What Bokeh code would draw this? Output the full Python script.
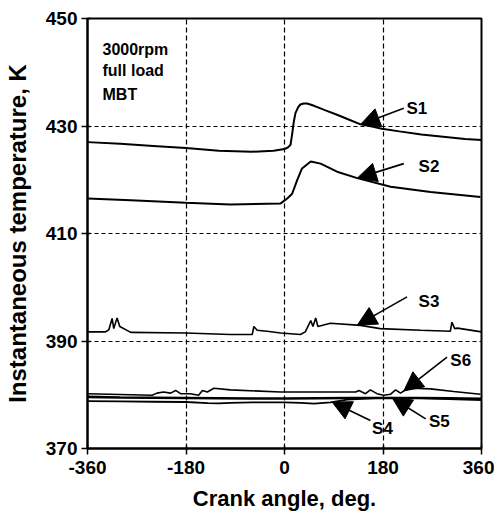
import numpy as np
from bokeh.plotting import figure
from bokeh.models import Range1d, Arrow, NormalHead, Label
from bokeh.embed import file_html
from bokeh.resources import INLINE

# Instantaneous wall temperature at six sensor locations over one engine cycle
s1_ca = [-360, -300, -240, -180, -120, -60, -20, 0, 6, 11, 14, 17, 20, 25, 29, 35, 41, 50, 60, 75,
         96, 115, 139, 160, 178, 210, 250, 290, 330, 360]
s1_t = [427.0, 426.7, 426.3, 425.9, 425.4, 425.2, 425.4, 425.7, 426.0, 426.5, 428.5, 430.8, 432.4,
        433.5, 434.0, 434.2, 434.2, 433.9, 433.5, 432.9, 432.1, 431.3, 430.3, 429.9, 429.5, 429.0,
        428.4, 428.0, 427.6, 427.4]

s2_ca = [-360, -281, -180, -99, -7, 5, 14, 23, 32, 48, 66, 96, 133, 194, 267, 358]
s2_t = [416.5, 416.2, 415.7, 415.4, 415.6, 416.5, 417.4, 419.9, 422.1, 423.4, 423.0, 421.5, 420.3,
        418.7, 417.7, 416.8]

s3_ca = [-360, -327, -321, -315, -312, -306, -301, -281, -181, -99, -59, -56, -50, -32, -7, 29, 38,
         48, 52, 57, 61, 84, 139, 175, 249, 303, 306, 311, 316, 360]
s3_t = [391.7, 391.7, 392.1, 394.2, 392.3, 394.3, 392.7, 391.6, 391.5, 391.2, 391.2, 392.7, 392.0,
        391.8, 391.5, 391.2, 391.7, 393.8, 392.7, 394.3, 392.7, 393.3, 392.9, 392.3, 392.0, 391.8,
        393.5, 392.3, 392.4, 391.7]

s4_ca = [-360, -300, -240, -180, -140, -120, -100, -60, 0, 30, 54, 84, 115, 150, 175, 236, 300, 360]
s4_t = [378.8, 378.75, 378.7, 378.65, 378.45, 378.4, 378.5, 378.6, 378.6, 378.5, 378.35, 378.6,
        379.1, 379.3, 379.4, 379.4, 379.2, 379.0]

s5_ca = [-360, -300, -240, -180, -120, -60, 0, 60, 120, 180, 240, 300, 360]
s5_t = [379.6, 379.5, 379.45, 379.4, 379.35, 379.3, 379.3, 379.35, 379.4, 379.4, 379.4, 379.35, 379.25]

s6_ca = [-360, -242, -233, -221, -208, -199, -190, -172, -157, -150, -141, -129, -99, -7, 130, 136,
         148, 157, 169, 181, 194, 203, 212, 221, 233, 267, 309, 358]
s6_t = [380.2, 379.9, 380.3, 380.5, 380.3, 380.8, 380.2, 380.2, 379.9, 380.8, 380.5, 381.2, 380.9,
        380.5, 380.5, 380.8, 380.2, 380.9, 380.2, 379.9, 380.1, 380.9, 380.3, 380.9, 381.2, 381.1,
        380.6, 380.1]

x_ticks = [-360, -180, 0, 180, 360]
x_tick_labels = ["-360", "-180", "0", "180", "360"]
y_ticks = [370, 390, 410, 430, 450]
note_lines = ["3000rpm", "full load", "MBT"]

FONT = "Liberation Sans"

p = figure(width=494, height=518, output_backend="svg", toolbar_location=None,
           x_range=Range1d(-360, 360), y_range=Range1d(370, 450),
           min_border_left=87, min_border_right=13, min_border_top=18, min_border_bottom=70)
p.background_fill_color = "white"
p.border_fill_color = "white"
p.outline_line_color = "black"
p.outline_line_width = 2

for ax in (p.xaxis[0], p.yaxis[0]):
    ax.axis_line_width = 2
    ax.axis_line_color = "black"
    ax.major_tick_line_color = "black"
    ax.major_tick_line_width = 1.5
    ax.major_tick_out = 6
    ax.major_tick_in = 3
    ax.minor_tick_line_color = None
    ax.major_label_text_font = FONT
    ax.major_label_text_font_style = "bold"
    ax.major_label_text_font_size = "19px"
    ax.major_label_text_color = "black"
    ax.axis_label_text_font = FONT
    ax.axis_label_text_font_style = "bold"
    ax.axis_label_text_color = "black"

p.xaxis.ticker = x_ticks
p.xaxis.major_label_overrides = dict(zip(x_ticks, x_tick_labels))
p.yaxis.ticker = y_ticks
p.xaxis.axis_label = "Crank angle, deg."
p.yaxis.axis_label = "Instantaneous temperature, K"
p.xaxis.axis_label_text_font_size = "22px"
p.yaxis.axis_label_text_font_size = "24px"
p.xaxis.major_label_standoff = 6
p.yaxis.major_label_standoff = 4
p.xaxis.axis_label_standoff = 9
p.yaxis.axis_label_standoff = 12

p.xgrid.grid_line_color = "black"
p.xgrid.grid_line_dash = "5 3"
p.xgrid.grid_line_width = 1.2
p.ygrid.grid_line_color = "black"
p.ygrid.grid_line_dash = "4 3"
p.ygrid.grid_line_width = 1.2

series = [
    ("S1", s1_ca, s1_t, 2.0),
    ("S2", s2_ca, s2_t, 2.0),
    ("S3", s3_ca, s3_t, 1.6),
    ("S4", s4_ca, s4_t, 1.8),
    ("S5", s5_ca, s5_t, 2.6),
    ("S6", s6_ca, s6_t, 1.6),
]
curves = {}
for name, ca, t, lw in series:
    p.line(ca, t, line_color="black", line_width=lw)
    curves[name] = (ca, t)

# Callout arrows: (tail angle, tail temperature, tip angle on the curve, label angle, label temperature)
callouts = {
    "S1": (218, 433.3, 139, 223, 433.3),
    "S2": (218, 423.0, 133, 245, 422.5),
    "S3": (224, 398.2, 133, 245, 397.4),
    "S6": (297, 387.0, 218, 303, 386.4),
    "S4": (157, 375.2, 87, 160, 373.7),
    "S5": (258, 375.5, 197, 264, 375.1),
}
for name, (xs, ys, xe, xl, yl) in callouts.items():
    ca, t = curves[name]
    ye = float(np.interp(xe, ca, t))
    p.add_layout(Arrow(end=NormalHead(size=19, fill_color="black", line_color="black"),
                       x_start=xs, y_start=ys, x_end=xe, y_end=ye,
                       line_color="black", line_width=1.6))
    p.add_layout(Label(x=xl, y=yl, text=name, text_font=FONT, text_font_style="bold",
                       text_font_size="17px", text_color="black",
                       text_align="left", text_baseline="middle"))

for txt, yv in zip(note_lines, [444.3, 440.3, 435.9]):
    p.add_layout(Label(x=-332.6, y=yv, text=txt, text_font=FONT, text_font_style="bold",
                       text_font_size="16px", text_color="black",
                       text_align="left", text_baseline="middle"))

open("out.html", "w").write(file_html(p, INLINE))
